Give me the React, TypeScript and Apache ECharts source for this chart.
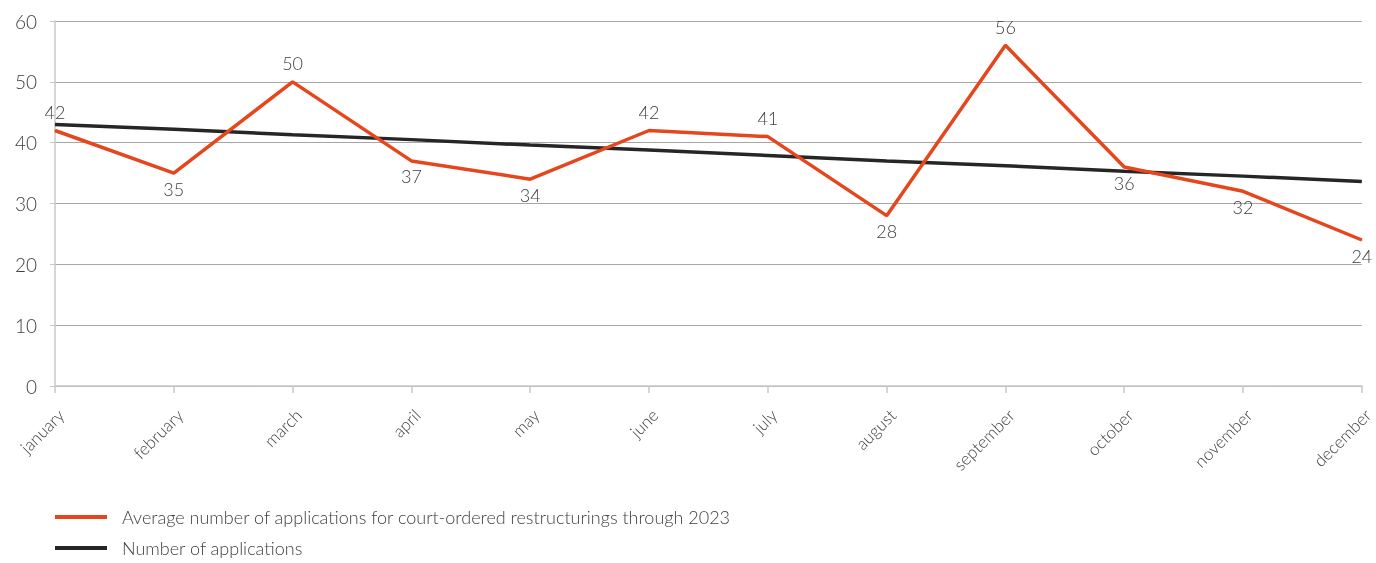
import React, { useEffect, useRef } from "react";
import * as echarts from "echarts";

const months = ["january", "february", "march", "april", "may", "june", "july", "august", "september", "october", "november", "december"];
const applications = [42, 35, 50, 37, 34, 42, 41, 28, 56, 36, 32, 24];
const labelBelow = [false, true, false, true, true, false, false, true, false, true, true, true];
const trend = [43.0, 42.2, 41.3, 40.5, 39.6, 38.8, 37.9, 37.0, 36.2, 35.3, 34.5, 33.6];
const seriesNames = ["Average number of applications for court-ordered restructurings through 2023", "Number of applications"];
const yTicks = { min: 0, max: 60, interval: 10 };

const FONT = "Lato";
const TEXT = "#404040";
const ORANGE = "#E5461C";
const BLACK = "#262626";

export default function App() {
  const ref = useRef<HTMLDivElement>(null);
  useEffect(() => {
    const chart = echarts.init(ref.current!, null, { renderer: "svg" });
    chart.setOption({
      animation: false,
      textStyle: { fontFamily: FONT, fontWeight: 300 },
      grid: { left: 55, right: 11, top: 21, bottom: 177, containLabel: false },
      legend: {
        orient: "vertical",
        left: 55,
        top: 508,
        padding: 0,
        itemWidth: 52,
        itemHeight: 4,
        itemGap: 13,
        textStyle: { fontFamily: FONT, fontWeight: 300, fontSize: 18, color: TEXT, padding: [0, 0, 0, 10] },
        data: [
          { name: seriesNames[0], icon: "rect" },
          { name: seriesNames[1], icon: "rect" },
        ],
      },
      xAxis: {
        type: "category",
        data: months,
        boundaryGap: false,
        axisLine: { lineStyle: { color: "#c8c8c8", width: 1.5 } },
        axisTick: { show: true, length: 7, lineStyle: { color: "#c8c8c8", width: 1.5 } },
        axisLabel: {
          rotate: 45,
          fontSize: 17,
          color: TEXT,
          fontFamily: FONT,
          fontWeight: 300,
          margin: 20,
          interval: 0,
          align: "right",
          verticalAlign: "top",
        },
      },
      yAxis: {
        type: "value",
        min: yTicks.min,
        max: yTicks.max,
        interval: yTicks.interval,
        axisLine: { show: true, lineStyle: { color: "#c8c8c8", width: 1.5 } },
        axisTick: { show: true, length: 5, lineStyle: { color: "#c8c8c8" } },
        splitLine: { lineStyle: { color: "#a6a6a6", width: 1 } },
        axisLabel: { fontSize: 19, color: TEXT, fontFamily: FONT, fontWeight: 300, margin: 18 },
      },
      series: [
        {
          name: seriesNames[0],
          type: "line",
          data: applications.map((v, i) => ({
            value: v,
            label: { position: labelBelow[i] ? "bottom" : "top", distance: labelBelow[i] ? 6 : 9 },
          })),
          symbol: "circle",
          symbolSize: 1,
          showSymbol: true,
          lineStyle: { color: ORANGE, width: 3.5 },
          itemStyle: { color: ORANGE },
          label: { show: true, fontSize: 18, color: TEXT, fontFamily: FONT, fontWeight: 300 },
          z: 3,
        },
        {
          name: seriesNames[1],
          type: "line",
          data: trend,
          symbol: "none",
          lineStyle: { color: BLACK, width: 3.5 },
          itemStyle: { color: BLACK },
          z: 2,
        },
      ],
    });
    return () => chart.dispose();
  }, []);
  return <div ref={ref} style={{ position: "fixed", left: 0, top: 0, width: 1376, height: 563 }} />;
}
